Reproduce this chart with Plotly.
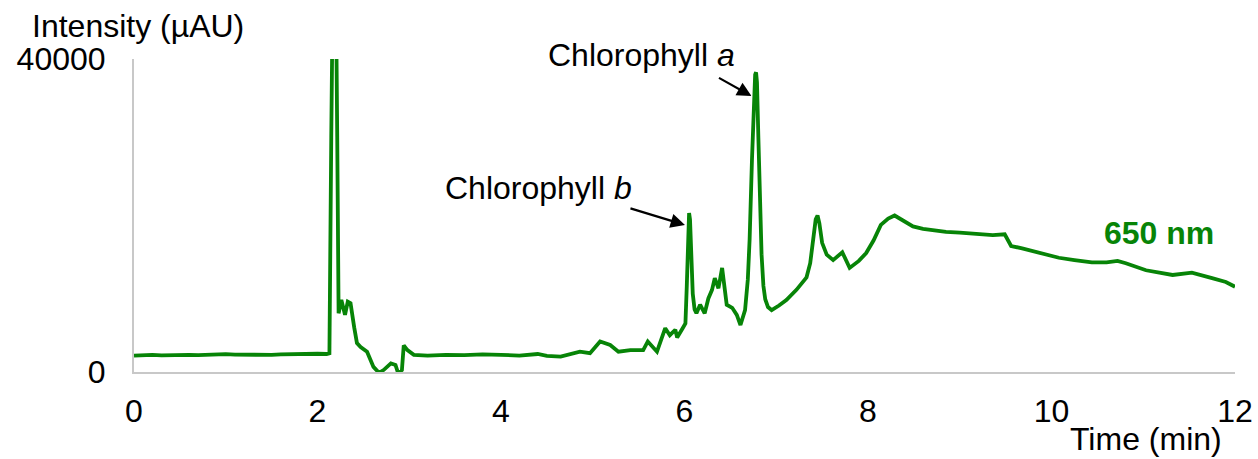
import plotly.graph_objects as go

# Chromatogram at 650 nm: retention time (min) and intensity (µAU)
time_min = [
    0.0, 0.1, 0.2, 0.3, 0.4, 0.5, 0.6, 0.7, 0.8, 0.9, 1.0, 1.1, 1.2, 1.3, 1.4, 1.5,
    1.6, 1.7, 1.8, 1.9, 2.0, 2.1, 2.13, 2.15, 2.185, 2.215, 2.23,
    2.26, 2.30, 2.33, 2.36, 2.40, 2.43, 2.47, 2.54, 2.61, 2.67, 2.72, 2.80, 2.85,
    2.88, 2.92, 2.94, 2.98, 3.05, 3.2, 3.4, 3.6, 3.8, 4.0, 4.2, 4.4, 4.5, 4.65,
    4.86, 4.97, 5.08, 5.19, 5.28, 5.41, 5.55, 5.60, 5.70, 5.79, 5.84, 5.90, 5.92,
    5.98, 6.01, 6.025, 6.04, 6.05, 6.06, 6.075, 6.09, 6.11, 6.13, 6.17, 6.22, 6.26,
    6.30, 6.33, 6.37, 6.41, 6.46, 6.52, 6.57, 6.61, 6.66, 6.69, 6.71, 6.735, 6.755,
    6.77, 6.78, 6.79, 6.805, 6.82, 6.84, 6.86, 6.88, 6.91, 6.95, 7.03, 7.11, 7.22,
    7.33, 7.37, 7.40, 7.43, 7.45, 7.47, 7.50, 7.55, 7.62, 7.72, 7.80, 7.90, 7.98,
    8.06, 8.14, 8.22, 8.29, 8.38, 8.49, 8.60, 8.70, 8.85, 9.00, 9.20, 9.36, 9.49,
    9.56, 9.68, 9.90, 10.08, 10.25, 10.44, 10.60, 10.72, 10.81, 11.03, 11.32, 11.53,
    11.75, 11.90, 12.0,
]
intensity = [
    2100, 2150, 2200, 2120, 2180, 2250, 2200, 2150, 2230, 2200, 2280, 2220, 2200, 2260, 2230, 2190,
    2250, 2300, 2240, 2280, 2330, 2300, 2400, 30000, 70000, 30000, 7500,
    9200, 7300, 9000, 8800, 5700, 3700, 3200, 2600, 650, -100, 250, 1100, 900,
    -200, 250, 3400, 2800, 2200, 2100, 2200, 2150, 2250, 2200, 2100, 2300, 2050, 1960,
    2600, 2400, 3900, 3450, 2600, 2800, 2800, 3900, 2600, 5600, 4700, 5400, 4400,
    5600, 6200, 11000, 18000, 20300, 19500, 14000, 10000, 8000, 7500, 8600, 7500, 9400,
    10500, 12000, 10700, 13300, 8600, 8200, 7300, 6000, 7900, 11800, 17000, 27000, 35000,
    38000, 38300, 37000, 30000, 22000, 15000, 11000, 9300, 8300, 7900, 8500, 9200, 10500,
    12100, 13900, 16500, 19500, 20000, 19000, 16500, 15000, 14300, 15300, 13300, 14200, 15200,
    16800, 18800, 19600, 20000, 19400, 18600, 18300, 18100, 17900, 17800, 17600, 17500, 17600,
    16100, 15800, 15100, 14600, 14300, 14000, 14000, 14200, 13900, 13000, 12400, 12700,
    12000, 11500, 10900,
]

x_ticks = [0, 2, 4, 6, 8, 10, 12]
y_ticks = [0, 40000]
y_tick_labels = ["0", "40000"]

GREEN = "#078407"
FONT = "Liberation Sans, Arial, sans-serif"
FS = 32

W, H = 1258, 459
X0, X1 = 134, 1235   # plot area left/right on screen
Y0, Y1 = 59, 372     # plot area top/bottom on screen
PW, PH = X1 - X0, Y1 - Y0

def px(xs, ys):
    return (xs - X0) / PW, (Y1 - ys) / PH

fig = go.Figure()
fig.add_trace(go.Scatter(
    x=time_min, y=intensity, mode="lines",
    line=dict(color=GREEN, width=3.8),
    hoverinfo="skip", showlegend=False,
))

annos = []
for text, sx, sy, xa, font in [
    ("Intensity (µAU)", 30, 26, "left", None),
    ("Time (min)", 1146, 439, "center", None),
    ("Chlorophyll <i>a</i>", 641, 55, "center", None),
    ("Chlorophyll <i>b</i>", 538, 188, "center", None),
    ("<b>650 nm</b>", 1159, 233, "center", dict(color=GREEN, size=FS)),
]:
    x, y = px(sx, sy)
    d = dict(text=text, xref="paper", yref="paper", x=x, y=y, xanchor=xa,
             yanchor="middle", showarrow=False)
    if font:
        d["font"] = font
    annos.append(d)

annos += [
    dict(text="", x=6.73, y=35270, xref="x", yref="y", showarrow=True,
         ax=-34, ay=-19, arrowhead=2, arrowsize=1.3, arrowwidth=2.2,
         arrowcolor="black", standoff=0),
    dict(text="", x=6.005, y=18790, xref="x", yref="y", showarrow=True,
         ax=-56, ay=-17, arrowhead=2, arrowsize=1.3, arrowwidth=2.2,
         arrowcolor="black", standoff=0),
]

fig.update_layout(
    width=W, height=H,
    margin=dict(l=X0, r=W - X1, t=Y0, b=H - Y1, pad=0, autoexpand=False),
    paper_bgcolor="white", plot_bgcolor="white",
    font=dict(family=FONT, size=FS, color="black"),
    xaxis=dict(
        range=[0, 12], tickvals=x_ticks, ticks="", showgrid=False, zeroline=False,
        showline=True, linecolor="#c8c8c8", linewidth=2, automargin=False,
        ticklabelstandoff=10, fixedrange=True,
    ),
    yaxis=dict(
        range=[0, 40000], tickvals=y_ticks, ticktext=y_tick_labels, ticks="",
        showgrid=False, zeroline=False, showline=True, linecolor="#c8c8c8",
        linewidth=2, automargin=False, ticklabelstandoff=20, fixedrange=True,
    ),
    annotations=annos,
)

fig.write_html(
    "out.html",
    config={"displayModeBar": False},
    post_script="document.body.style.margin='0px';document.body.style.overflow='hidden';",
)
